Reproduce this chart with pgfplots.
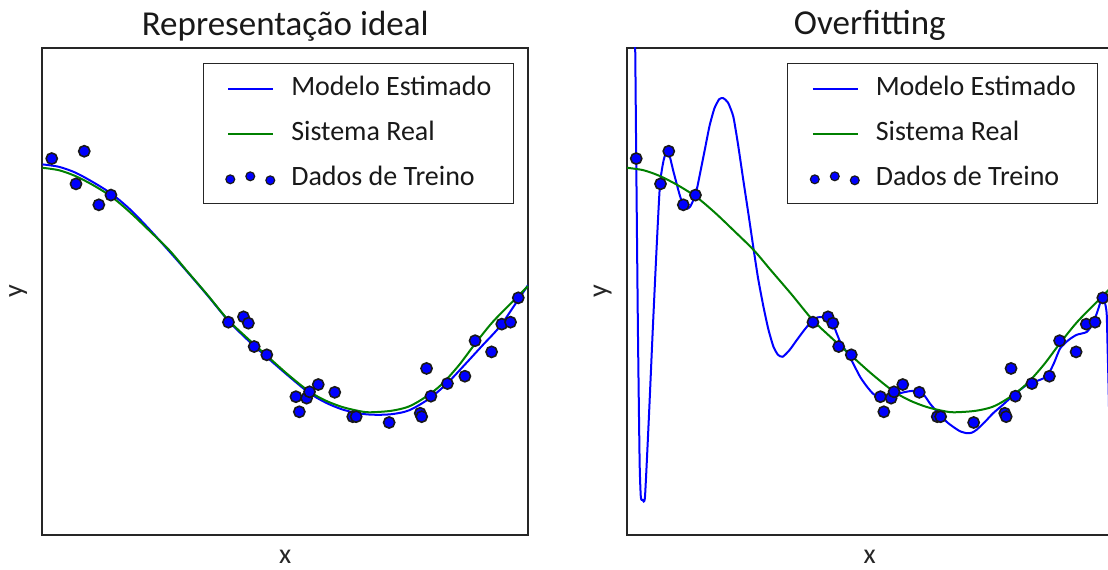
\documentclass[border=0pt]{standalone}
\usepackage{fontspec}
\setmainfont{Carlito}
\usepackage{pgfplots}
\usepackage{pgfplotstable}
\pgfplotsset{compat=1.18}
\definecolor{mplgreen}{rgb}{0,0.5,0}

\pgfplotstableread{
x y
0.019 0.773
0.086 0.788
0.069 0.721
0.116 0.678
0.141 0.698
0.383 0.437
0.414 0.448
0.424 0.435
0.436 0.387
0.462 0.370
0.522 0.284
0.529 0.253
0.544 0.281
0.550 0.294
0.568 0.309
0.602 0.293
0.639 0.243
0.646 0.243
0.714 0.231
0.778 0.250
0.781 0.243
0.791 0.342
0.800 0.285
0.834 0.311
0.870 0.326
0.891 0.399
0.925 0.376
0.946 0.433
0.964 0.437
0.980 0.487
}\treino

\pgfplotstableread{
x y
0.000 0.754
0.034 0.749
0.068 0.737
0.105 0.718
0.143 0.694
0.181 0.662
0.219 0.626
0.261 0.585
0.296 0.544
0.339 0.494
0.382 0.442
0.421 0.405
0.460 0.370
0.505 0.330
0.549 0.295
0.583 0.276
0.617 0.263
0.650 0.255
0.673 0.252
0.718 0.255
0.755 0.264
0.790 0.284
0.823 0.310
0.858 0.349
0.892 0.394
0.926 0.436
0.961 0.472
1.000 0.511
}\real

\pgfplotstableread{
x y
0.000 0.761
0.034 0.756
0.068 0.744
0.105 0.724
0.143 0.700
0.181 0.668
0.219 0.629
0.258 0.586
0.296 0.543
0.339 0.493
0.382 0.441
0.421 0.402
0.460 0.367
0.505 0.328
0.549 0.292
0.583 0.272
0.617 0.258
0.650 0.250
0.680 0.247
0.718 0.248
0.755 0.256
0.798 0.281
0.835 0.313
0.870 0.350
0.905 0.388
0.942 0.428
0.971 0.470
1.000 0.513
}\ideal

\pgfplotstableread{
x y
0.0150 1.100
0.0170 0.990
0.0190 0.773
0.0225 0.420
0.0260 0.150
0.0285 0.078
0.0320 0.072
0.0370 0.078
0.0450 0.240
0.0530 0.420
0.0610 0.590
0.0680 0.721
0.0760 0.772
0.0845 0.789
0.0960 0.745
0.1080 0.700
0.1160 0.676
0.1225 0.670
0.1300 0.674
0.1415 0.700
0.1520 0.750
0.1610 0.795
0.1700 0.840
0.1800 0.876
0.1900 0.895
0.1980 0.897
0.2080 0.888
0.2190 0.859
0.2290 0.800
0.2395 0.729
0.2500 0.660
0.2600 0.592
0.2700 0.527
0.2810 0.469
0.2910 0.423
0.3015 0.387
0.3110 0.370
0.3207 0.366
0.3350 0.380
0.3495 0.400
0.3660 0.422
0.3820 0.441
0.3930 0.447
0.4040 0.447
0.4150 0.442
0.4250 0.431
0.4390 0.397
0.4590 0.365
0.4800 0.325
0.4940 0.305
0.5070 0.290
0.5210 0.283
0.5350 0.281
0.5490 0.285
0.5620 0.291
0.5800 0.295
0.5970 0.296
0.6120 0.287
0.6240 0.270
0.6360 0.256
0.6480 0.243
0.6600 0.231
0.6720 0.222
0.6860 0.213
0.7000 0.209
0.7100 0.210
0.7200 0.216
0.7370 0.232
0.7540 0.250
0.7750 0.268
0.7960 0.287
0.8230 0.308
0.8440 0.316
0.8650 0.326
0.8790 0.352
0.8920 0.383
0.9090 0.400
0.9260 0.411
0.9470 0.417
0.9600 0.435
0.9700 0.462
0.9780 0.486
0.9840 0.478
0.9880 0.455
0.9900 0.380
0.9920 0.300
0.9960 0.100
1.0000 -0.200
}\overfit

\pgfplotsset{
  every axis title shift=0pt,
  panel/.style={
    scale only axis, width=242.75pt, height=243.5pt,
    xmin=0, xmax=1, ymin=0, ymax=1,
    xtick=\empty, ytick=\empty,
    axis line style={line width=1pt, black!85},
    title style={at={(axis description cs:0.5,1)}, anchor=base, yshift=6.5pt,
      font=\fontsize{17.5}{21}\selectfont, text=black!90},
    xlabel={x}, ylabel={y},
    xlabel style={at={(axis description cs:0.5,-0.044)}, anchor=center,
      font=\fontsize{14}{16}\selectfont, text=black!85},
    ylabel style={at={(axis description cs:-0.05,0.5)}, anchor=center,
      font=\fontsize{14}{16}\selectfont, text=black!85},
    legend cell align=left,
    legend style={at={(axis description cs:0.971,0.969)}, anchor=north east,
      draw=black!85, line width=0.6pt,
      font=\fontsize{14}{16}\selectfont, text=black!90,
      inner xsep=11pt, inner ysep=6pt, row sep=9.5pt, column sep=8pt,
      nodes={inner sep=0pt, text height=10pt, text depth=3pt}},
    legend image code/.code={\draw[##1] (-1pt,0pt) -- (21.5pt,0pt);},
  },
  modelo/.style={blue, line width=1pt, smooth, tension=0.5},
  sistema/.style={mplgreen, line width=1pt, smooth, tension=0.5},
  pontos/.style={only marks, mark=*, mark size=2.8pt,
    mark options={fill=blue, draw=black!90, line width=0.8pt},
    legend image code/.code={
      \draw[fill=blue, draw=black!90, line width=0.6pt]
        (0pt,-0.3pt) circle (2.2pt) (10pt,1.2pt) circle (2.2pt) (20pt,-0.8pt) circle (2.2pt);}},
}

\begin{document}
\begin{tikzpicture}
\begin{axis}[panel, title={Representação ideal}, at={(0pt,0pt)}, anchor=south west]
  \addplot[modelo] table {\ideal};
  \addlegendentry{Modelo Estimado}
  \addplot[sistema] table {\real};
  \addlegendentry{Sistema Real}
  \addplot[pontos] table {\treino};
  \addlegendentry{Dados de Treino}
\end{axis}
\begin{axis}[panel, title={Overfitting}, at={(292.25pt,0pt)}, anchor=south west]
  \addplot[blue, line width=1pt, smooth, tension=0.35] table {\overfit};
  \addlegendentry{Modelo Estimado}
  \addplot[sistema] table {\real};
  \addlegendentry{Sistema Real}
  \addplot[pontos] table {\treino};
  \addlegendentry{Dados de Treino}
\end{axis}
\pgfresetboundingbox
\path[use as bounding box] (-21.25pt,-17pt) rectangle (532.75pt,267.5pt);
\end{tikzpicture}
\end{document}
